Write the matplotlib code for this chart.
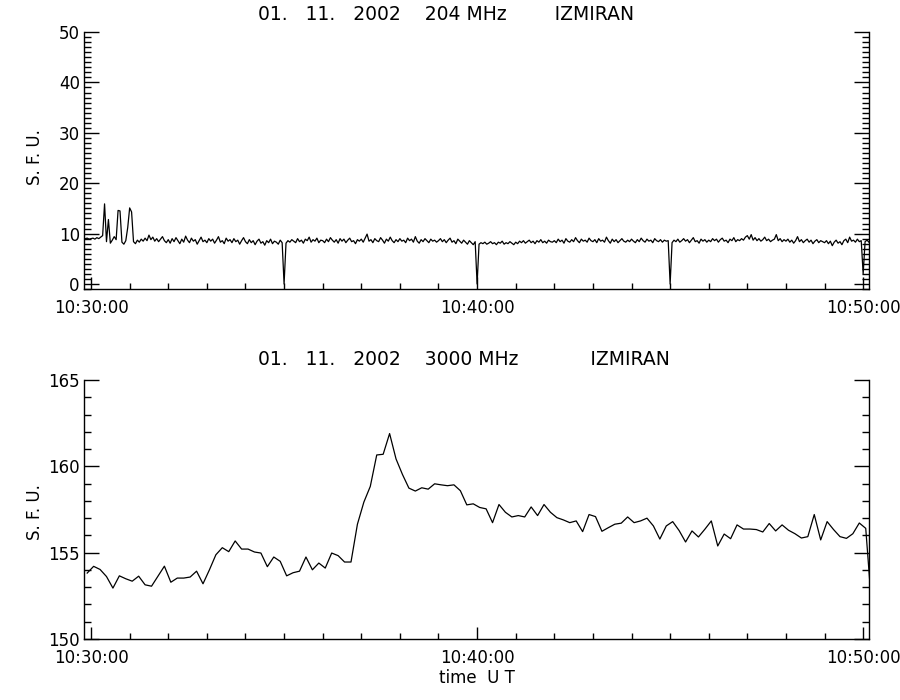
import numpy as np
import matplotlib
matplotlib.use('Agg')
import matplotlib.pyplot as plt
from matplotlib.ticker import MultipleLocator

# --- data -------------------------------------------------------------
# 204 MHz, 3 s cadence starting 10:29:51 (seconds from 10:30:00 = -9)
flux204 = [
    9.0, 9.1, 8.9,
    9.0, 9.1, 8.9, 9.2, 9.0, 9.3, 9.6, 15.9, 8.4, 12.8, 8.1, 8.7, 9.4, 8.8, 14.6, 14.5, 8.3, 7.9, 8.6, 11.2,
    15.1, 14.3, 8.4, 8.0, 8.7, 8.3, 8.9, 8.5, 9.1, 8.6, 9.7, 8.8, 9.3, 8.5, 9.0, 8.4, 8.9, 9.4, 8.6, 8.2,
    8.8, 8.1, 9.0, 8.4, 9.2, 8.6, 8.0, 8.9, 8.3, 9.5, 8.7, 8.2, 9.1, 8.5, 8.8, 7.9, 8.6, 9.3, 8.4, 8.7,
    8.2, 9.0, 8.5, 8.9, 8.1, 8.7, 9.4, 8.3, 8.6, 8.0, 9.1, 8.5, 8.8, 8.2, 9.0, 8.4, 8.7, 7.9, 8.6, 9.2,
    8.4, 8.0, 8.8, 8.2, 8.6, 7.8, 8.5, 8.9, 8.1, 8.4, 7.7, 8.6, 8.2, 8.9, 8.0, 8.5, 8.3, 7.9, 8.7, 8.2,
    0.0, 8.1, 8.6, 8.3, 8.8, 8.5, 8.2, 9.0, 8.4, 8.7, 8.1, 8.9, 8.6, 9.3, 8.3, 8.8, 8.5, 9.1, 8.2, 8.7,
    8.6, 8.2, 8.9, 8.4, 9.2, 8.7, 8.3, 8.8, 8.1, 9.0, 8.5, 8.9, 8.2, 8.7, 9.1, 8.4, 8.6, 8.0, 8.8, 8.5,
    8.9, 8.3, 9.1, 9.9, 8.5, 8.8, 8.2, 9.0, 8.6, 8.4, 9.2, 8.7, 8.1, 8.9, 8.5, 9.3, 8.6, 8.2, 8.8, 8.4,
    9.0, 8.5, 8.7, 8.2, 9.1, 8.6, 8.9, 8.3, 9.4, 8.5, 8.1, 8.8, 8.4, 9.0, 8.6, 8.2, 8.9, 8.5, 8.7, 8.3,
    8.6, 9.0, 8.4, 8.8, 8.2, 8.7, 9.1, 8.3, 8.6, 8.0, 8.9, 8.5, 8.1, 8.7, 8.3, 7.9, 8.6, 8.2, 7.8, 8.4,
    0.0, 7.9, 8.2, 8.0, 8.3, 7.9, 8.1, 8.4, 8.0, 8.2, 7.8, 8.3, 8.1, 8.5, 7.9, 8.2, 8.0, 8.4, 8.1, 7.8,
    8.3, 8.0, 8.5, 8.2, 8.6, 8.1, 8.4, 8.7, 8.2, 8.5, 8.0, 8.6, 8.3, 8.8, 8.2, 8.5, 8.1, 8.7, 8.4, 8.3,
    8.6, 8.2, 8.9, 8.4, 8.7, 8.1, 9.0, 8.5, 8.3, 8.8, 8.4, 9.2, 8.6, 8.2, 8.9, 8.5, 8.7, 8.3, 9.1, 8.6,
    8.4, 8.8, 8.2, 9.0, 8.5, 8.7, 8.3, 9.3, 8.6, 8.1, 8.9, 8.4, 8.8, 8.2, 8.6, 9.0, 8.5, 8.3, 8.7, 8.4,
    8.9, 8.5, 8.2, 8.8, 8.4, 9.1, 8.6, 8.3, 8.9, 8.5, 8.7, 8.2, 9.0, 8.6, 8.4, 8.8, 8.3, 8.7, 8.5, 8.6,
    0.0, 8.2, 8.7, 8.4, 8.9, 8.3, 8.6, 9.0, 8.5, 8.8, 8.2, 8.7, 9.2, 8.4, 8.6, 8.1, 8.9, 8.5, 8.8, 8.3,
    8.7, 8.4, 9.0, 8.6, 8.9, 8.3, 8.8, 9.1, 8.5, 8.7, 8.2, 8.9, 8.6, 9.2, 8.4, 8.8, 8.6, 9.0, 8.7, 9.3,
    9.6, 8.9, 9.8, 8.7, 9.2, 8.6, 9.0, 8.5, 8.8, 9.3, 8.6, 8.9, 8.4, 8.7, 8.9, 9.8, 8.6, 9.0, 8.4, 8.8,
    8.5, 8.9, 8.3, 8.7, 8.1, 8.6, 9.4, 8.4, 8.8, 8.2, 8.6, 8.9, 8.3, 8.7, 8.0, 8.5, 8.8, 8.2, 8.6, 8.4,
    8.2, 8.6, 8.0, 8.5, 7.6, 8.3, 8.7, 8.1, 8.4, 7.8, 8.6, 8.9, 8.2, 9.3, 8.5, 8.7, 8.3, 8.9, 8.4, 8.6,
    2.0, 8.4, 8.7, 8.3,
]
t0_204, dt_204 = -9, 3

# 3000 MHz, 10 s cadence starting 10:29:54
flux3000 = [
    153.82, 154.21, 154.03, 153.62, 152.95, 153.66, 153.49, 153.35, 153.64, 153.14,
    153.06, 153.64, 154.22, 153.29, 153.53, 153.53, 153.59, 153.93, 153.20, 154.01,
    154.88, 155.29, 155.06, 155.68, 155.21, 155.21, 155.04, 154.98, 154.19, 154.75,
    154.50, 153.66, 153.84, 153.93, 154.75, 154.01, 154.40, 154.11, 154.98, 154.83,
    154.46, 154.46, 156.65, 157.93, 158.84, 160.66, 160.70, 161.90, 160.43, 159.53,
    158.74, 158.57, 158.76, 158.68, 158.99, 158.93, 158.88, 158.93, 158.59, 157.77,
    157.83, 157.62, 157.54, 156.74, 157.79, 157.34, 157.07, 157.15, 157.07, 157.65,
    157.15, 157.79, 157.34, 157.03, 156.90, 156.74, 156.84, 156.22, 157.21, 157.09,
    156.24, 156.45, 156.65, 156.71, 157.07, 156.74, 156.84, 157.00, 156.55, 155.79,
    156.55, 156.80, 156.28, 155.62, 156.26, 155.91, 156.36, 156.84, 155.39, 156.08,
    155.81, 156.61, 156.37, 156.37, 156.34, 156.20, 156.69, 156.26, 156.61, 156.30,
    156.10, 155.85, 155.93, 157.21, 155.74, 156.80, 156.34, 155.93, 155.83, 156.10,
    156.72, 156.41, 151.50,
]
t0_3000, dt_3000 = -6, 10

xtick_pos = [0, 600, 1200]
xtick_labels = ['10:30:00', '10:40:00', '10:50:00']
titles = ['01.   11.   2002    204 MHz        IZMIRAN',
          '01.   11.   2002    3000 MHz            IZMIRAN']

t204 = t0_204 + dt_204 * np.arange(len(flux204))
t3000 = t0_3000 + dt_3000 * np.arange(len(flux3000))

# --- figure -----------------------------------------------------------
plt.rcParams['font.family'] = ['DejaVu Sans']
fig = plt.figure(figsize=(9, 7), dpi=100)
ax1 = fig.add_axes([0.0933, 0.5871, 0.8722, 0.3671])
ax2 = fig.add_axes([0.0933, 0.0871, 0.8722, 0.3700])

ax1.plot(t204, flux204, color='black', lw=0.9)
ax2.plot(t3000, flux3000, color='black', lw=0.9)

ax1.set_ylim(-1, 50)
ax1.yaxis.set_major_locator(MultipleLocator(10))
ax1.yaxis.set_minor_locator(MultipleLocator(1))
ax2.set_ylim(150, 165)
ax2.yaxis.set_major_locator(MultipleLocator(5))
ax2.yaxis.set_minor_locator(MultipleLocator(1))

for ax in (ax1, ax2):
    ax.set_xlim(-11, 1209)
    ax.set_xticks(xtick_pos)
    ax.set_xticklabels(xtick_labels)
    ax.xaxis.set_minor_locator(MultipleLocator(60))
    ax.spines['top'].set_visible(False)
    for s in ('left', 'right', 'bottom'):
        ax.spines[s].set_linewidth(1.0)
    ax.tick_params(axis='x', which='both', direction='in', top=False, pad=7,
                   labelsize=12, width=1.0)
    ax.tick_params(axis='x', which='major', length=9)
    ax.tick_params(axis='x', which='minor', length=4.5)
    ax.tick_params(axis='y', which='both', direction='in', left=True, right=True,
                   pad=3, labelsize=12, width=1.0)
    ax.tick_params(axis='y', which='major', length=11)
    ax.tick_params(axis='y', which='minor', length=5)

fig.text(258 / 900, 1 - 15 / 700, titles[0], ha='left', va='center', fontsize=13.5)
fig.text(258 / 900, 1 - 360 / 700, titles[1], ha='left', va='center', fontsize=13.5)
fig.text(35 / 900, 1 - 157 / 700, 'S. F. U.', rotation=90, ha='center', va='center', fontsize=12)
fig.text(35 / 900, 1 - 512 / 700, 'S. F. U.', rotation=90, ha='center', va='center', fontsize=12)
fig.text(477 / 900, 1 - 678 / 700, 'time  U T', ha='center', va='center', fontsize=12)

fig.savefig('out.png', dpi=100)
